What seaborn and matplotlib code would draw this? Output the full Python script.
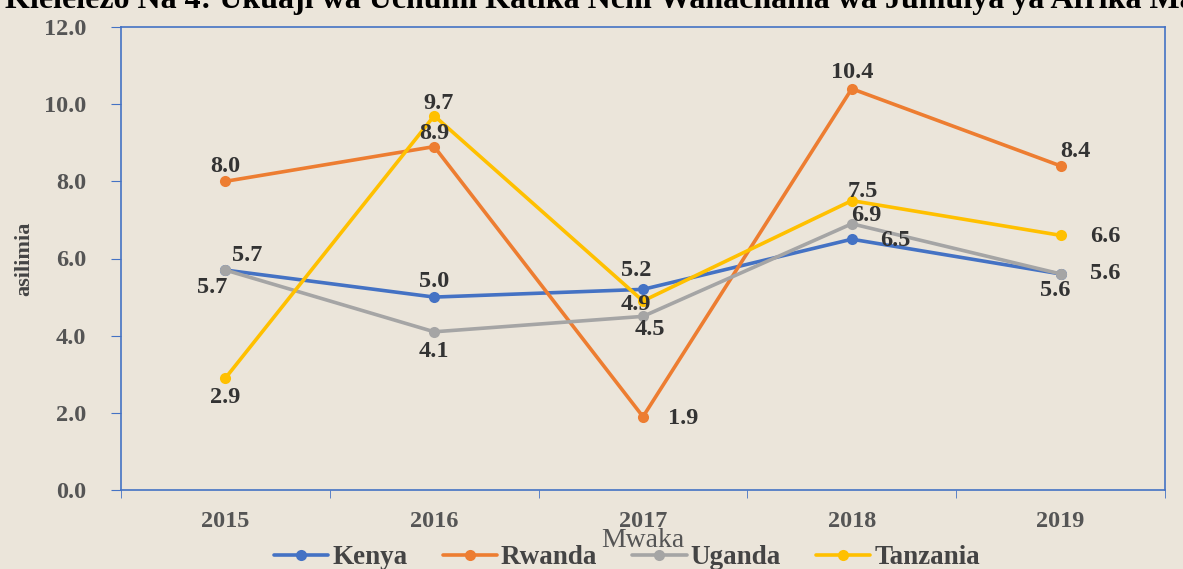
import numpy as np
import pandas as pd
import matplotlib
matplotlib.use('Agg')
import matplotlib.pyplot as plt
import seaborn as sns
from matplotlib.ticker import FixedLocator, FormatStrFormatter

years = ['2015', '2016', '2017', '2018', '2019']
kenya = [5.7, 5.0, 5.2, 6.5, 5.6]
rwanda = [8.0, 8.9, 1.9, 10.4, 8.4]
uganda = [5.7, 4.1, 4.5, 6.9, 5.6]
tanzania = [2.9, 9.7, 4.9, 7.5, 6.6]

countries = ['Kenya', 'Rwanda', 'Uganda', 'Tanzania']
colors = ['#4472C4', '#ED7D31', '#A5A5A5', '#FFC000']
series = dict(zip(countries, [kenya, rwanda, uganda, tanzania]))

# label offsets in pixels (dx, dy) per country and year index
offsets = {
    'Kenya': [(22, 15), (0, 16), (-7, 19), (44, -1), (-5, -17)],
    'Rwanda': [(0, 15), (0, 13), (40, -2), (0, 16), (15, 14)],
    'Uganda': [(-13, -17), (0, -20), (7, -13), (15, 8), (45, 0)],
    'Tanzania': [(0, -19), (4, 12), (-7, -4), (11, 9), (45, -1)],
}

rows = []
for c in countries:
    for i, v in enumerate(series[c]):
        rows.append({'pos': i, 'year': years[i], 'value': v, 'country': c})
df = pd.DataFrame(rows)

sns.set_style('white')
plt.rcParams['font.family'] = ['Liberation Serif', 'DejaVu Serif']
bg = '#ebe5da'

fig = plt.figure(figsize=(11.83, 5.69), dpi=100, facecolor=bg)
ax = fig.add_axes([121 / 1183, 1 - 490 / 569, 1044 / 1183, 463 / 569])
ax.set_facecolor(bg)

sns.lineplot(data=df, x='pos', y='value', hue='country', hue_order=countries,
             palette=colors, marker='o', markersize=8, markeredgewidth=0,
             linewidth=2.6, ax=ax, legend=False, zorder=3)

for c in countries:
    for i, v in enumerate(series[c]):
        dx, dy = offsets[c][i]
        ax.annotate(f'{v:.1f}', (i, v), xytext=(dx, dy), textcoords='offset pixels',
                    ha='center', va='center', fontsize=17.5, fontweight='bold',
                    color='#333333', zorder=5)

ax.set_xlim(-0.5, 4.5)
ax.set_ylim(0, 12)
ax.yaxis.set_major_locator(FixedLocator(np.arange(0, 12.1, 2)))
ax.yaxis.set_major_formatter(FormatStrFormatter('%.1f'))
ax.set_xticks(range(len(years)))
ax.set_xticklabels(years)
ax.xaxis.set_minor_locator(FixedLocator(np.arange(-0.5, 4.6, 1)))
ax.tick_params(axis='x', which='major', length=0, pad=15)
ax.tick_params(axis='x', which='minor', length=6, direction='out', color='#4472C4', bottom=True)
ax.tick_params(axis='y', length=7, direction='out', color='#4472C4', left=True, pad=18)
for lab in ax.get_xticklabels() + ax.get_yticklabels():
    lab.set_fontsize(17.5)
    lab.set_fontweight('bold')
    lab.set_color('#555555')

for s in ax.spines.values():
    s.set_color('#4472C4')
    s.set_linewidth(1.2)

ax.set_xlabel('Mwaka', fontsize=20, color='#555555', labelpad=-3)
ax.set_ylabel('asilimia', fontsize=16, fontweight='bold', color='#444444', labelpad=7)

handles = [plt.Line2D([], [], color=col, marker='o', markersize=8, markeredgewidth=0,
                      linewidth=2.6) for col in colors]
leg = fig.legend(handles, countries, loc='center', bbox_to_anchor=(0.53, 11 / 569),
                 ncol=4, frameon=False, handlelength=2.0, handletextpad=0.15,
                 columnspacing=1.3, borderpad=0, prop={'size': 19.5, 'weight': 'bold'})
for t in leg.get_texts():
    t.set_color('#444444')

fig.text(0.004, 1 - 8 / 569,
         'Kielelezo Na 4: Ukuaji wa Uchumi Katika Nchi Wanachama wa Jumuiya ya Afrika Mashariki',
         ha='left', va='baseline', fontsize=23, fontweight='bold', color='black')

fig.savefig('out.png', dpi=100, facecolor=bg)
